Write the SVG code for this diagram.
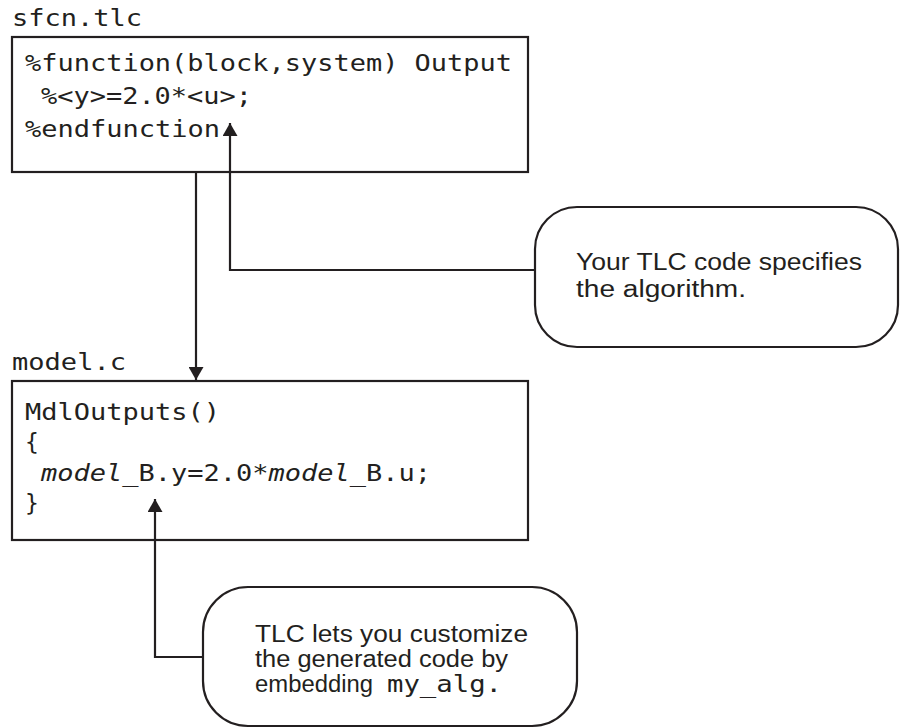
<svg xmlns="http://www.w3.org/2000/svg" width="901" height="728" viewBox="0 0 901 728">
<defs>
<style>
.box{fill:#fff;stroke:#231f20;stroke-width:2.2}
.conn{fill:none;stroke:#231f20;stroke-width:2.2}
.mono{font-family:"DejaVu Sans Mono","Liberation Mono",monospace;font-size:23px;fill:#231f20}
.sans{font-family:"Liberation Sans",Arial,sans-serif;font-size:23px;fill:#231f20}
</style>
<marker id="ah" markerUnits="userSpaceOnUse" markerWidth="16" markerHeight="15" refX="13" refY="7.5" orient="auto">
<path d="M0,0 L13,7.5 L0,15 Z" fill="#231f20"/>
</marker>
</defs>
<rect width="901" height="728" fill="#fff"/>
<g id="sfcn">
<text class="mono" x="12" y="26" textLength="130" lengthAdjust="spacingAndGlyphs">sfcn.tlc</text>
<rect class="box" x="12" y="37" width="516" height="135"/>
<text class="mono" x="25" y="71" textLength="487" lengthAdjust="spacingAndGlyphs">%function(block,system) Output</text>
<text class="mono" x="41" y="104" textLength="211" lengthAdjust="spacingAndGlyphs">%&lt;y&gt;=2.0*&lt;u&gt;;</text>
<text class="mono" x="25" y="137" textLength="195" lengthAdjust="spacingAndGlyphs">%endfunction</text>
</g>
<g id="modelc">
<text class="mono" x="12" y="370" textLength="114" lengthAdjust="spacingAndGlyphs">model.c</text>
<rect class="box" x="12" y="381" width="516" height="159"/>
<text class="mono" x="25" y="420" textLength="195" lengthAdjust="spacingAndGlyphs">MdlOutputs()</text>
<text class="mono" x="25" y="450">{</text>
<text class="mono" x="41" y="481" textLength="390" lengthAdjust="spacingAndGlyphs"><tspan font-style="italic">model</tspan>_B.y=2.0*<tspan font-style="italic">model</tspan>_B.u;</text>
<text class="mono" x="25" y="511">}</text>
</g>
<g id="callout1">
<rect class="box" x="535" y="207" width="363" height="140" rx="42" ry="42"/>
<text class="sans" x="576" y="270" textLength="286" lengthAdjust="spacingAndGlyphs">Your TLC code specifies</text>
<text class="sans" x="576" y="297" textLength="170" lengthAdjust="spacingAndGlyphs">the algorithm.</text>
</g>
<g id="callout2">
<rect class="box" x="203" y="587" width="374" height="139" rx="45" ry="45"/>
<text class="sans" x="255" y="642" textLength="273" lengthAdjust="spacingAndGlyphs">TLC lets you customize</text>
<text class="sans" x="255" y="667" textLength="253" lengthAdjust="spacingAndGlyphs">the generated code by</text>
<text class="sans" x="255" y="692" textLength="118" lengthAdjust="spacingAndGlyphs">embedding</text>
<text class="mono" x="387" y="692" textLength="115" lengthAdjust="spacingAndGlyphs">my_alg.</text>
</g>
<g id="connectors">
<path class="conn" d="M535,270 H230 V123" marker-end="url(#ah)"/>
<path class="conn" d="M196,172 V380" marker-end="url(#ah)"/>
<path class="conn" d="M203,657 H155 V499" marker-end="url(#ah)"/>
</g>
</svg>
